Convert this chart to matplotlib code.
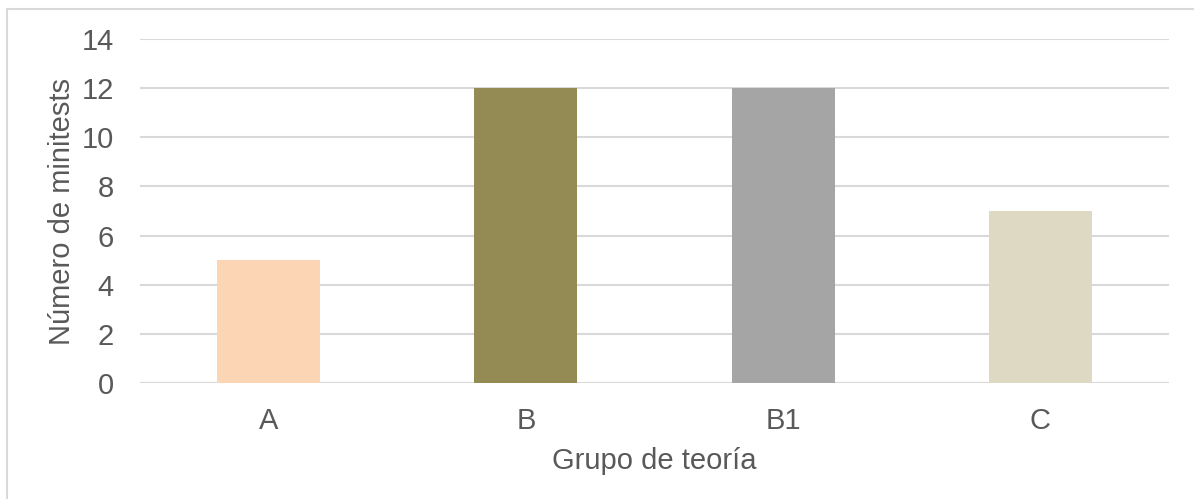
import matplotlib.pyplot as plt
from matplotlib.patches import Rectangle

# datos del gráfico
grupos = ["A", "B", "B1", "C"]
minitests = [5, 12, 12, 7]
colores = ["#FCD5B5", "#948A54", "#A5A5A5", "#DDD9C3"]
ticks_y = [0, 2, 4, 6, 8, 10, 12, 14]

plt.rcParams['font.family'] = ['Liberation Sans', 'DejaVu Sans']
texto = "#595959"

fig = plt.figure(figsize=(11.94, 4.99), dpi=100)
ax = fig.add_axes([0.1173, 0.2325, 0.8617, 0.6893])

ax.bar(range(len(grupos)), minitests, width=0.4, color=colores, zorder=3)

ax.set_xlim(-0.5, len(grupos) - 0.5)
ax.set_ylim(0, 14)
ax.set_yticks(ticks_y)
ax.set_xticks(range(len(grupos)))
ax.set_xticklabels(grupos)
ax.grid(axis='y', color='#D9D9D9', linewidth=1.5, zorder=0)
ax.axhline(0, color='#D9D9D9', linewidth=1.5, zorder=2)
for s in ax.spines.values():
    s.set_visible(False)
ax.tick_params(length=0, labelsize=21, colors=texto)
ax.tick_params(axis='x', pad=17)
ax.tick_params(axis='y', pad=19)

ax.set_xlabel("Grupo de teoría", fontsize=21, color=texto, labelpad=9)
ax.set_ylabel("Número de minitests", fontsize=21, color=texto, labelpad=4)

# marco del gráfico
fig.patches.append(Rectangle((7 / 1194, -0.1), 1.2, 1 - 9 / 499 + 0.1,
                             transform=fig.transFigure, fill=False,
                             edgecolor='#D9D9D9', linewidth=1.5))

fig.savefig("out.png", dpi=100)
